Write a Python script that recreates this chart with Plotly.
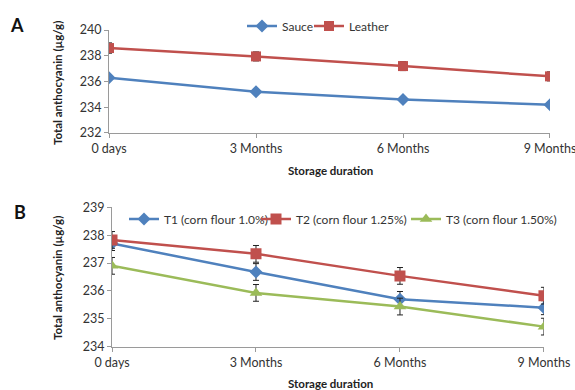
import plotly.graph_objects as go

# Storage periods shared by both panels
periods = ["0 days", "3 Months", "6 Months", "9 Months"]

# Panel A: product type
sauce = [236.3, 235.2, 234.6, 234.2]
sauce_err = [0.15, 0.2, 0.2, 0.15]
leather = [238.6, 237.95, 237.2, 236.4]
leather_err = [0.4, 0.35, 0.35, 0.35]

# Panel B: corn flour level
t1 = [237.7, 236.68, 235.7, 235.4]
t1_err = [0.25, 0.3, 0.28, 0.25]
t2 = [237.83, 237.33, 236.54, 235.83]
t2_err = [0.3, 0.3, 0.3, 0.3]
t3 = [236.9, 235.93, 235.44, 234.72]
t3_err = [0.3, 0.3, 0.3, 0.3]

BLUE = "#4F81BD"
RED = "#C0504D"
GREEN = "#9BBB59"
FONT = "Lato"
W, H = 575, 390

fig = go.Figure()


def add_series(x_axis, y_axis, name, values, errs, color, symbol, size, legend):
    fig.add_trace(go.Scatter(
        x=periods, y=values, name=name, mode="lines+markers",
        xaxis=x_axis, yaxis=y_axis, legend=legend, showlegend=True,
        line=dict(color=color, width=2.5),
        marker=dict(color=color, symbol=symbol, size=size),
        error_y=dict(type="data", array=errs, visible=True,
                     color="#222222", thickness=1, width=3),
    ))


# each series gets its own one-entry legend so entries can be spaced freely
add_series("x", "y", "Sauce", sauce, sauce_err, BLUE, "diamond", 10, "legend")
add_series("x", "y", "Leather", leather, leather_err, RED, "square", 10, "legend2")
add_series("x2", "y2", "T1 (corn flour 1.0%)", t1, t1_err, BLUE, "diamond", 10, "legend3")
add_series("x2", "y2", "T2 (corn flour 1.25%)", t2, t2_err, RED, "square", 11, "legend4")
add_series("x2", "y2", "T3 (corn flour 1.50%)", t3, t3_err, GREEN, "triangle-up", 11, "legend5")

axis_common = dict(
    showline=True, linecolor="#9a9a9a", linewidth=1,
    ticks="outside", tickcolor="#9a9a9a", ticklen=4,
    showgrid=False, zeroline=False, automargin=False,
    tickfont=dict(family=FONT, size=12.5, color="#333333"),
)


def legend_at(px, py):
    return dict(
        x=px / W, y=1 - py / H, orientation="h", xanchor="left", yanchor="middle",
        bgcolor="rgba(0,0,0,0)", font=dict(family=FONT, size=12, color="#333333"),
        itemwidth=30,
    )


fig.update_layout(
    width=W, height=H, showlegend=True,
    margin=dict(l=0, r=0, t=0, b=0, autoexpand=False),
    paper_bgcolor="white", plot_bgcolor="white",
    font=dict(family=FONT, color="#222222"),
    xaxis=dict(domain=[0.1896, 0.9565], anchor="y", type="category",
               categoryorder="array", categoryarray=periods,
               range=[0, 3], **axis_common),
    yaxis=dict(domain=[0.659, 0.923], anchor="x", range=[232, 240],
               dtick=2, **axis_common),
    xaxis2=dict(domain=[0.1948, 0.946], anchor="y2", type="category",
                categoryorder="array", categoryarray=periods,
                range=[0, 3], **axis_common),
    yaxis2=dict(domain=[0.111, 0.4685], anchor="x2", range=[234, 239],
                dtick=1, **axis_common),
    legend=legend_at(242, 26),
    legend2=legend_at(309, 26),
    legend3=legend_at(124, 219),
    legend4=legend_at(256, 219),
    legend5=legend_at(406, 219),
)

annotations = [
    dict(text="<b>A</b>", x=17 / W, y=1 - 25 / H, font=dict(size=18, color="#111111")),
    dict(text="<b>B</b>", x=20 / W, y=1 - 212 / H, font=dict(size=18, color="#111111")),
    dict(text="<b>Total anthocyanin (µg/g)</b>", x=57 / W, y=1 - 83 / H,
         textangle=-90, font=dict(size=11.5, color="#222222")),
    dict(text="<b>Total anthocyanin (µg/g)</b>", x=57 / W, y=1 - 278 / H,
         textangle=-90, font=dict(size=11.5, color="#222222")),
    dict(text="<b>Storage duration</b>", x=330 / W, y=1 - 170 / H,
         font=dict(size=11.5, color="#222222")),
    dict(text="<b>Storage duration</b>", x=330 / W, y=1 - 383 / H,
         font=dict(size=11.5, color="#222222")),
]
for a in annotations:
    a.update(xref="paper", yref="paper", showarrow=False,
             xanchor="center", yanchor="middle")
    a["font"]["family"] = FONT
fig.update_layout(annotations=annotations)

fig.write_html("out.html")
